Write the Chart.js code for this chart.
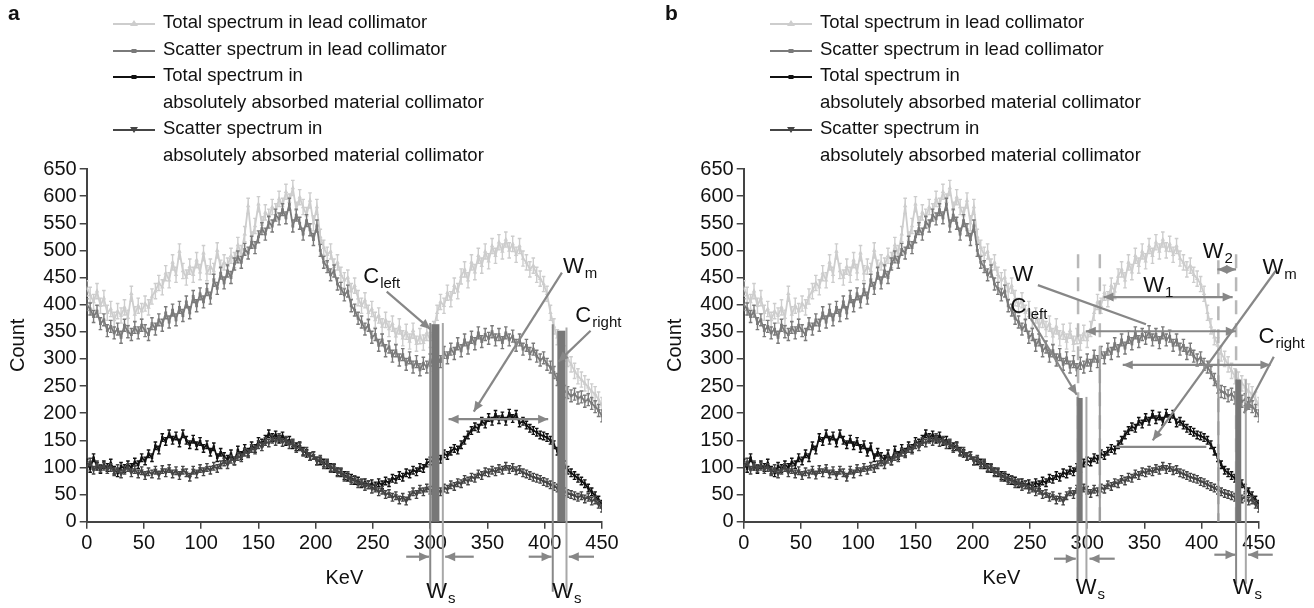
<!DOCTYPE html>
<html>
<head>
<meta charset="utf-8">
<script src="https://cdn.jsdelivr.net/npm/chart.js@4.4.0/dist/chart.umd.min.js"></script>
<style>
  body { margin: 0; background: #fff; font-family: 'Liberation Sans', Arial, sans-serif; }
  #wrap { display: flex; width: 1314px; height: 608px; }
  .panel { position: relative; width: 657px; height: 608px; }
  .panel canvas { position: absolute; left: 0; top: 0; }
  .tag { position: absolute; left: 8px; top: 1px; font-weight: bold; font-size: 21px; color: #111; }
  .legend { position: absolute; left: 113px; top: 9px; font-size: 18.5px; color: #111; }
  .row { position: relative; height: 26.5px; line-height: 26.5px; padding-left: 50px; white-space: nowrap; }
  .row svg { position: absolute; left: 0; top: 9px; }
</style>
</head>
<body>
<div id="wrap">
  <div class="panel"><canvas id="chartA" width="657" height="608"></canvas><div class="tag">a</div><div class="legend" id="legendA"></div></div>
  <div class="panel"><canvas id="chartB" width="657" height="608"></canvas><div class="tag">b</div><div class="legend" id="legendB"></div></div>
</div>
<script>
"use strict";

// 1: data (every 3 KeV)
const keV = [0,3,6,9,12,15,18,21,24,27,30,33,36,39,42,45,48,51,54,57,60,63,66,69,72,75,78,81,84,87,
  90,93,96,99,102,105,108,111,114,117,120,123,126,129,132,135,138,141,144,147,150,153,156,159,162,165,168,171,174,177,
  180,183,186,189,192,195,198,201,204,207,210,213,216,219,222,225,228,231,234,237,240,243,246,249,252,255,258,261,264,267,
  270,273,276,279,282,285,288,291,294,297,300,303,306,309,312,315,318,321,324,327,330,333,336,339,342,345,348,351,354,357,
  360,363,366,369,372,375,378,381,384,387,390,393,396,399,402,405,408,411,414,417,420,423,426,429,432,435,438,441,444,447,450];

const totalLead = [430,418,405,425,398,412,385,392,372,388,380,395,376,420,382,398,388,402,395,415,
  425,440,432,458,445,478,455,498,462,450,470,455,482,460,495,458,470,462,500,468,
  478,472,490,482,510,495,530,582,520,545,585,548,570,562,580,572,595,582,608,590,
  615,575,598,580,565,592,550,580,525,505,492,498,470,478,455,445,450,425,435,412,
  398,408,385,392,372,380,360,372,355,365,342,360,338,350,332,352,328,342,330,348,
  335,355,385,405,398,422,410,435,425,452,465,445,478,460,490,472,498,480,508,490,
  515,498,520,500,512,492,508,485,478,465,472,455,448,438,420,385,360,340,325,310,
  300,290,278,268,262,255,248,240,235,225,215];

const scatterLead = [400,392,378,388,365,372,352,360,348,355,340,362,350,345,358,348,362,352,345,365,
  355,372,362,385,368,390,372,395,380,405,385,415,398,420,405,428,412,445,430,458,
  440,462,450,475,488,478,502,495,515,505,525,540,530,552,545,565,558,575,560,585,
  545,565,550,530,555,538,520,545,500,478,470,455,462,438,430,418,425,398,390,375,
  368,355,362,340,345,325,335,315,322,305,315,298,308,290,302,285,295,280,292,285,
  298,288,305,295,312,302,318,310,328,315,335,320,340,328,348,332,345,338,350,335,
  345,330,348,335,342,325,335,318,325,310,318,305,298,302,290,285,275,262,248,240,
  238,232,235,228,230,222,225,218,212,205,195];

const totalAbs = [108,98,118,102,96,105,100,108,95,90,102,98,105,100,110,105,118,112,125,118,
  140,132,155,148,162,150,158,145,162,150,142,152,140,148,135,142,128,138,118,128,
  120,115,125,112,132,122,135,128,140,135,148,145,152,162,155,160,152,158,148,150,
  142,138,140,130,126,120,122,112,112,108,105,100,98,92,90,85,82,80,76,75,
  70,72,68,70,66,72,68,75,72,80,78,85,82,90,88,95,92,100,98,108,
  112,110,118,115,125,122,130,135,132,142,150,160,168,175,172,185,180,192,185,198,
  188,195,185,200,190,198,182,185,178,172,168,165,160,158,155,150,142,130,118,105,
  95,90,85,80,75,70,62,55,48,40,32];

const scatterAbs = [102,110,95,105,98,102,96,100,92,98,88,95,100,90,96,88,94,85,92,88,
  95,86,96,90,98,88,94,85,95,90,82,95,88,98,92,100,95,102,98,105,
  110,105,115,112,120,118,128,125,135,132,142,138,148,145,152,148,155,146,150,142,
  145,135,138,128,130,120,122,112,115,105,108,98,100,90,92,82,85,76,78,70,
  72,65,68,60,62,55,58,50,52,45,48,40,45,38,48,55,50,60,55,62,
  58,52,60,55,62,60,68,65,72,70,78,75,82,80,88,85,92,90,95,92,
  98,95,102,96,100,94,96,90,88,85,82,80,78,74,72,68,65,62,58,55,
  52,50,48,45,48,42,45,38,40,32,25];

const xTicks = [0,50,100,150,200,250,300,350,400,450];
const yTicks = [0,50,100,150,200,250,300,350,400,450,500,550,600,650];

const seriesNames = [
  ['Total spectrum in lead collimator'],
  ['Scatter spectrum in lead collimator'],
  ['Total spectrum in', 'absolutely absorbed material collimator'],
  ['Scatter spectrum in', 'absolutely absorbed material collimator']
];
const seriesValues = [totalLead, scatterLead, totalAbs, scatterAbs];

// 2: styles
const FONT = "'Liberation Sans', Arial, sans-serif";
Chart.defaults.font.family = FONT;
Chart.defaults.color = '#111';

// err = half length of the drawn error bar, in counts
const seriesStyle = [
  { color: '#cdcdcd', point: 'triangle', radius: 2.6, rot: 0, width: 1.8, order: 4, err: 14 },
  { color: '#7a7a7a', point: 'rect', radius: 2, rot: 0, width: 1.8, order: 3, err: 11 },
  { color: '#111111', point: 'rect', radius: 1.8, rot: 0, width: 1.8, order: 2, err: 7 },
  { color: '#454545', point: 'triangle', radius: 2.6, rot: 180, width: 1.8, order: 1, err: 7 }
];

// annotations, in KeV / Count units (dy = pixels under the x axis)
const notesA = [
  { t: 'vline', x: 300, top: 366, below: 70 },
  { t: 'vline', x: 311, top: 366, below: 70, color: '#a8a8a8' },
  { t: 'bar', x1: 301, x2: 308, top: 364 },
  { t: 'vline', x: 407, top: 364, below: 70 },
  { t: 'vline', x: 419, top: 358, below: 70, color: '#a8a8a8' },
  { t: 'bar', x1: 411, x2: 418, top: 352 },
  { t: 'arrow', x1: 279, x2: 299, dy: 35 },
  { t: 'arrow', x1: 338, x2: 313, dy: 35 },
  { t: 'arrow', x1: 386, x2: 406, dy: 35 },
  { t: 'arrow', x1: 443, x2: 421, dy: 35 },
  { t: 'arrow', x1: 316, y1: 189, x2: 403, y2: 189, both: true },
  { t: 'arrow', x1: 415, y1: 459, x2: 338, y2: 203 },
  { t: 'arrow', x1: 262, y1: 424, x2: 300, y2: 355 },
  { t: 'arrow', x1: 440, y1: 352, x2: 412, y2: 295 },
  { t: 'text', x: 241.5, y: 451, main: 'C', sub: 'left' },
  { t: 'text', x: 416, y: 470, main: 'W', sub: 'm' },
  { t: 'text', x: 426.7, y: 379, main: 'C', sub: 'right' },
  { t: 'text', x: 296.6, dy: 70, main: 'W', sub: 's' },
  { t: 'text', x: 406.6, dy: 70, main: 'W', sub: 's' }
];

const notesB = [
  { t: 'vline', x: 292, top: 493, dash: true },
  { t: 'vline', x: 311, top: 493, dash: true },
  { t: 'vline', x: 414.5, top: 482, dash: true },
  { t: 'vline', x: 430, top: 493, dash: true },
  { t: 'vline', x: 311, top: 300, color: '#9a9a9a' },
  { t: 'vline', x: 414.5, top: 300, color: '#9a9a9a' },
  { t: 'vline', x: 291.5, top: 230, below: 58 },
  { t: 'vline', x: 299.3, top: 230, below: 58, color: '#a8a8a8' },
  { t: 'vline', x: 430, top: 262, below: 62 },
  { t: 'vline', x: 438.5, top: 262, below: 62, color: '#a8a8a8' },
  { t: 'bar', x1: 291.5, x2: 296, top: 228 },
  { t: 'bar', x1: 430, x2: 434.5, top: 262 },
  { t: 'arrow', x1: 271, x2: 290, dy: 37 },
  { t: 'arrow', x1: 324, x2: 302, dy: 37 },
  { t: 'arrow', x1: 411, x2: 429.5, dy: 33 },
  { t: 'arrow', x1: 462, x2: 440.5, dy: 33 },
  { t: 'arrow', x1: 413.7, y1: 465, x2: 430, y2: 465, both: true },
  { t: 'arrow', x1: 314.3, y1: 414, x2: 427, y2: 414, both: true },
  { t: 'arrow', x1: 298.7, y1: 351, x2: 429.8, y2: 351, both: true },
  { t: 'arrow', x1: 331, y1: 289, x2: 460, y2: 289, both: true },
  { t: 'arrow', x1: 325, y1: 138, x2: 404, y2: 138, plain: true },
  { t: 'arrow', x1: 256.9, y1: 436, x2: 351.3, y2: 364, plain: true },
  { t: 'arrow', x1: 464.5, y1: 462, x2: 357.2, y2: 150 },
  { t: 'arrow', x1: 250.5, y1: 375, x2: 290.8, y2: 234 },
  { t: 'arrow', x1: 462.9, y1: 304, x2: 436.7, y2: 200 },
  { t: 'text', x: 234.8, y: 455, main: 'W', sub: '' },
  { t: 'text', x: 233, y: 395, main: 'C', sub: 'left' },
  { t: 'text', x: 349, y: 434, main: 'W', sub: '1' },
  { t: 'text', x: 400.8, y: 497, main: 'W', sub: '2' },
  { t: 'text', x: 453, y: 468, main: 'W', sub: 'm' },
  { t: 'text', x: 449.6, y: 340, main: 'C', sub: 'right' },
  { t: 'text', x: 290, dy: 66, main: 'W', sub: 's' },
  { t: 'text', x: 427, dy: 66, main: 'W', sub: 's' }
];

// 3: plugins
// error bars, drawn right before each dataset so the stacking stays right
const errorBarPlugin = {
  id: 'errbars',
  beforeDatasetDraw(chart, args) {
    const st = seriesStyle[args.index];
    const { ctx, chartArea, scales } = chart;
    const y = scales.y;
    ctx.save();
    ctx.beginPath();
    ctx.rect(chartArea.left, chartArea.top, chartArea.right - chartArea.left, chartArea.bottom - chartArea.top);
    ctx.clip();
    ctx.strokeStyle = st.color;
    ctx.lineWidth = 1.4;
    ctx.beginPath();
    args.meta.data.forEach((pt, j) => {
      const v = seriesValues[args.index][j];
      const top = y.getPixelForValue(v + st.err);
      const bot = y.getPixelForValue(v - st.err);
      ctx.moveTo(pt.x, top); ctx.lineTo(pt.x, bot);
      ctx.moveTo(pt.x - 1.8, top); ctx.lineTo(pt.x + 1.8, top);
      ctx.moveTo(pt.x - 1.8, bot); ctx.lineTo(pt.x + 1.8, bot);
    });
    ctx.stroke();
    ctx.restore();
  }
};

function head(ctx, x1, y1, x2, y2) {
  const a = Math.atan2(y2 - y1, x2 - x1);
  const s = 11;
  ctx.beginPath();
  ctx.moveTo(x2, y2);
  ctx.lineTo(x2 - s * Math.cos(a - 0.42), y2 - s * Math.sin(a - 0.42));
  ctx.lineTo(x2 - s * Math.cos(a + 0.42), y2 - s * Math.sin(a + 0.42));
  ctx.closePath();
  ctx.fill();
}

const notesPlugin = {
  id: 'notes',
  afterDatasetsDraw(chart, args, opts) {
    const { ctx, chartArea, scales } = chart;
    const X = v => scales.x.getPixelForValue(v);
    const Y = v => scales.y.getPixelForValue(v);
    const base = chartArea.bottom;
    ctx.save();
    for (const n of opts.items) {
      if (n.t === 'bar') {
        ctx.fillStyle = '#777';
        ctx.fillRect(X(n.x1), Y(n.top), X(n.x2) - X(n.x1), base - Y(n.top));
      } else if (n.t === 'vline') {
        ctx.strokeStyle = n.dash ? '#b8b8b8' : (n.color || '#888');
        ctx.lineWidth = n.dash ? 2.5 : 2;
        ctx.setLineDash(n.dash ? [14, 9] : []);
        ctx.beginPath();
        ctx.moveTo(X(n.x), Y(n.top));
        ctx.lineTo(X(n.x), base + (n.below || 0));
        ctx.stroke();
        ctx.setLineDash([]);
      } else if (n.t === 'arrow') {
        const x1 = X(n.x1), x2 = X(n.x2);
        const y1 = n.dy !== undefined ? base + n.dy : Y(n.y1);
        const y2 = n.dy !== undefined ? base + n.dy : Y(n.y2);
        ctx.strokeStyle = '#878787';
        ctx.fillStyle = '#878787';
        ctx.lineWidth = 2.2;
        ctx.beginPath();
        ctx.moveTo(x1, y1);
        ctx.lineTo(x2, y2);
        ctx.stroke();
        if (!n.plain) head(ctx, x1, y1, x2, y2);
        if (n.both) head(ctx, x2, y2, x1, y1);
      } else if (n.t === 'text') {
        const x = X(n.x);
        const y = n.dy !== undefined ? base + n.dy : Y(n.y);
        ctx.fillStyle = '#111';
        ctx.textBaseline = 'middle';
        ctx.textAlign = 'left';
        ctx.font = '22px ' + FONT;
        ctx.fillText(n.main, x, y);
        const w = ctx.measureText(n.main).width;
        ctx.font = '15px ' + FONT;
        ctx.fillText(n.sub, x + w + 1, y + 7);
      }
    }
    ctx.restore();
  }
};

// 4: legend as page text
function buildLegend(id) {
  const box = document.getElementById(id);
  seriesNames.forEach((lines, i) => {
    const st = seriesStyle[i];
    lines.forEach((txt, j) => {
      const row = document.createElement('div');
      row.className = 'row';
      if (j === 0) {
        let mark = '';
        if (st.point === 'triangle') {
          mark = st.rot ? '<path d="M17,3 L25,3 L21,9 Z" fill="' + st.color + '"/>'
                        : '<path d="M21,2 L25,8 L17,8 Z" fill="' + st.color + '"/>';
        } else {
          mark = '<rect x="18.5" y="4" width="5" height="4" fill="' + st.color + '"/>';
        }
        row.innerHTML = '<svg width="42" height="12"><line x1="0" y1="6" x2="42" y2="6" stroke="' +
          st.color + '" stroke-width="2"/>' + mark + '</svg>';
      }
      row.appendChild(document.createTextNode(txt));
      box.appendChild(row);
    });
  });
}

// 5: create the charts
function makeChart(canvasId, notes) {
  const datasets = seriesValues.map((vals, i) => {
    const st = seriesStyle[i];
    return {
      label: seriesNames[i].join(' '),
      data: keV.map((k, j) => ({ x: k, y: vals[j] })),
      borderColor: st.color,
      backgroundColor: st.color,
      borderWidth: st.width,
      pointStyle: st.point,
      pointRotation: st.rot,
      pointRadius: st.radius,
      pointBorderWidth: 0,
      tension: 0,
      order: st.order
    };
  });
  return new Chart(document.getElementById(canvasId), {
    type: 'line',
    data: { datasets },
    plugins: [errorBarPlugin, notesPlugin],
    options: {
      responsive: false,
      animation: false,
      devicePixelRatio: 1,
      layout: { padding: { top: 169, right: 55, left: 0, bottom: 0 } },
      plugins: {
        legend: { display: false },
        tooltip: { enabled: false },
        notes: { items: notes }
      },
      scales: {
        x: {
          type: 'linear', min: 0, max: 450,
          afterBuildTicks: s => { s.ticks = xTicks.map(v => ({ value: v })); },
          afterFit: s => { s.height = 86.3; },
          grid: { display: true, drawOnChartArea: false, drawTicks: true, tickLength: 7, color: '#444', lineWidth: 1.5 },
          border: { display: true, color: '#444', width: 2 },
          ticks: { font: { size: 20 }, color: '#111', padding: 3, maxRotation: 0 },
          title: { display: true, text: 'KeV', font: { size: 20 }, color: '#111', padding: { bottom: 18 } }
        },
        y: {
          min: 0, max: 650,
          afterBuildTicks: s => { s.ticks = yTicks.map(v => ({ value: v })); },
          afterFit: s => { s.width = 86.7; },
          grid: { display: true, drawOnChartArea: false, drawTicks: true, tickLength: 7, color: '#444', lineWidth: 1.5 },
          border: { display: true, color: '#444', width: 2 },
          ticks: { font: { size: 20 }, color: '#111', padding: 3 },
          title: { display: true, text: 'Count', font: { size: 20 }, color: '#111', padding: { top: 6 } }
        }
      }
    }
  });
}

buildLegend('legendA');
buildLegend('legendB');
makeChart('chartA', notesA);
makeChart('chartB', notesB);
</script>
</body>
</html>
